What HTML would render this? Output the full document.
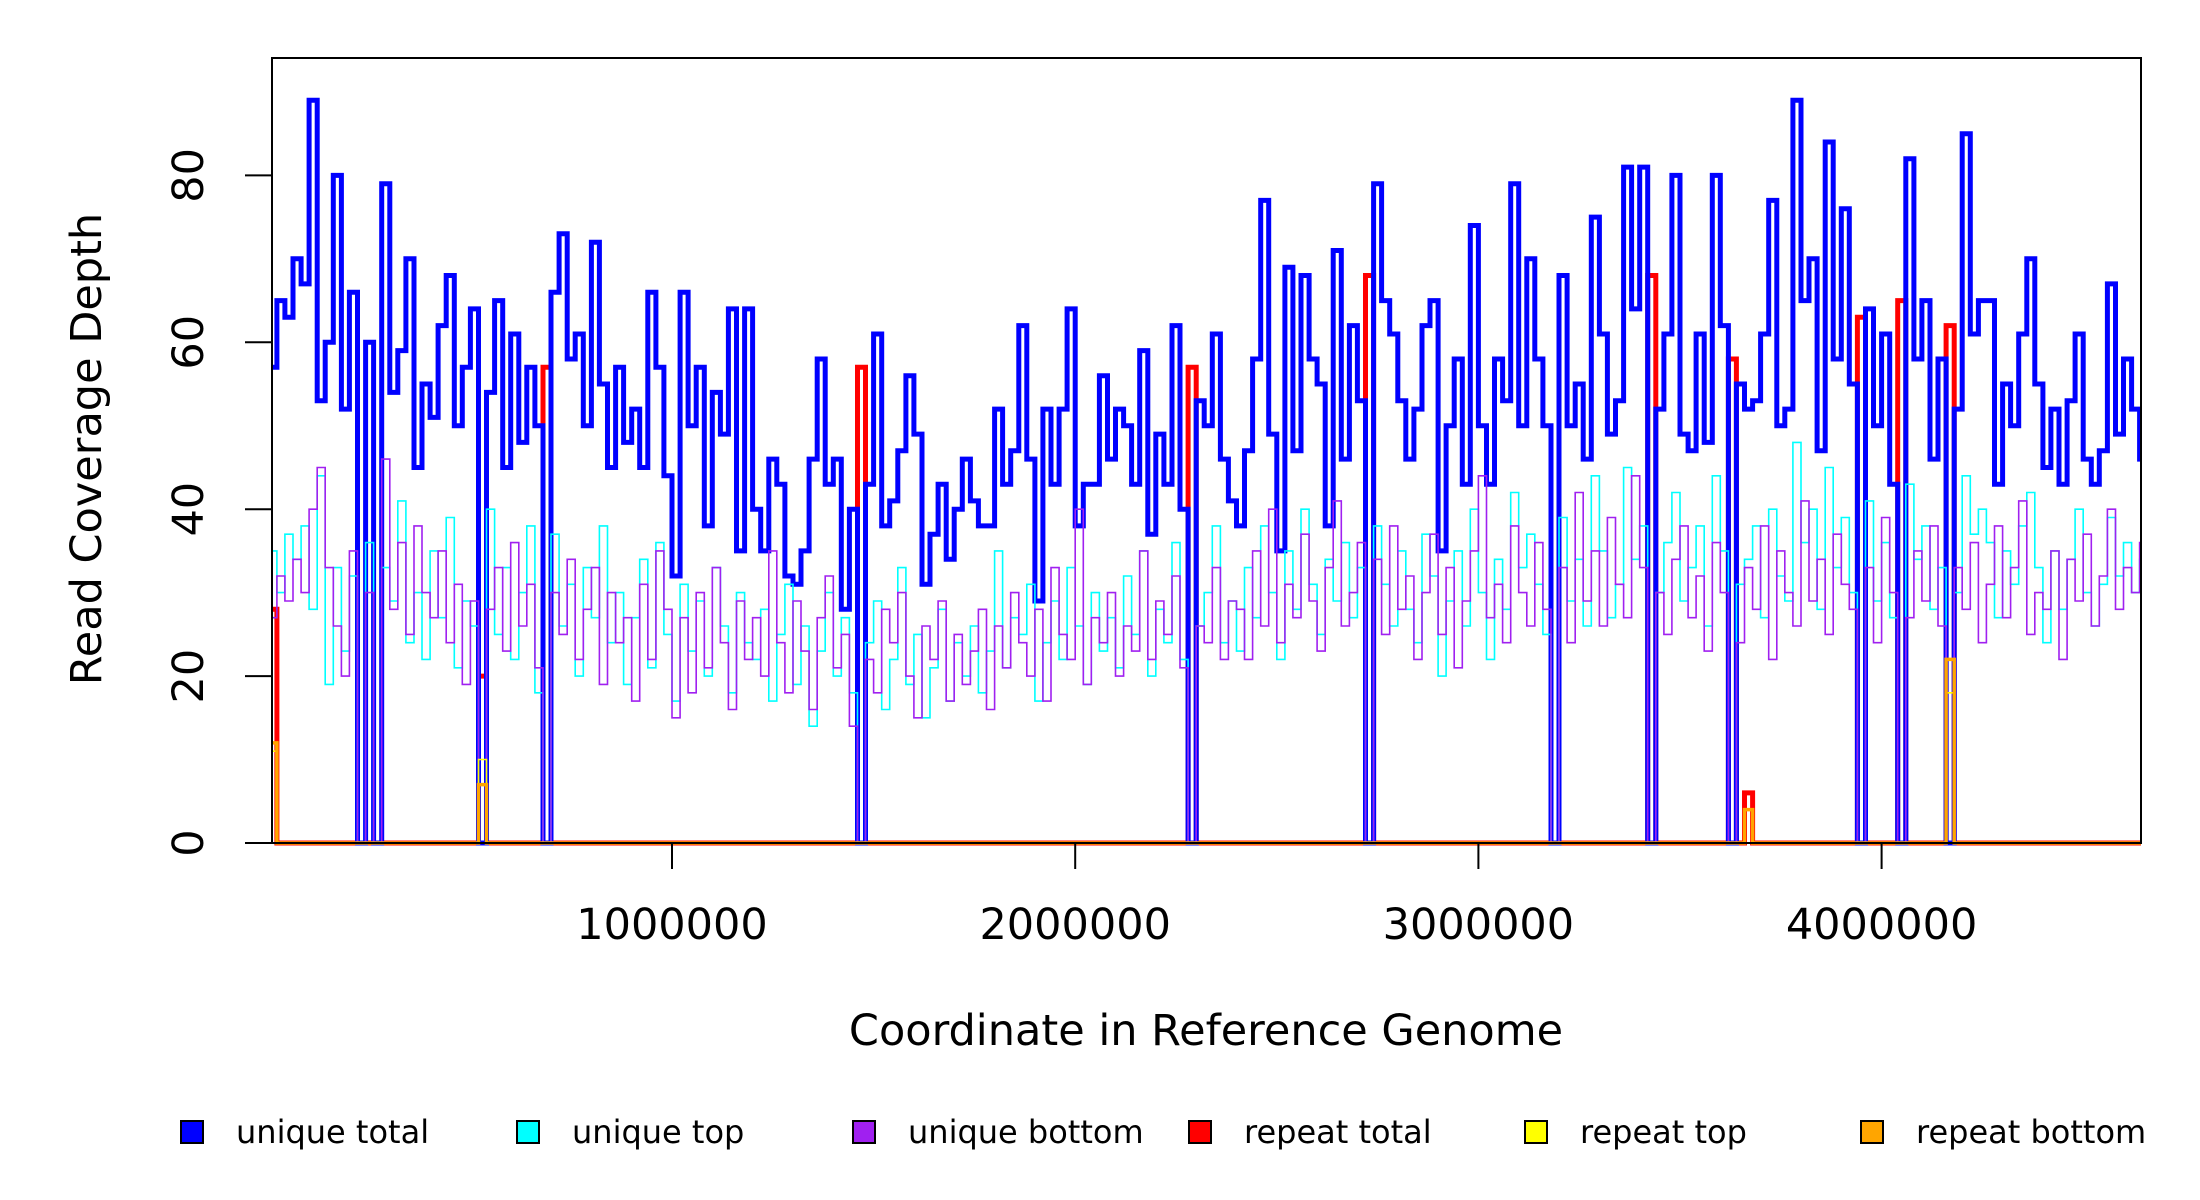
<!DOCTYPE html>
<html><head><meta charset="utf-8"><style>
html,body{margin:0;padding:0;background:#fff;}
svg{display:block;font-family:"DejaVu Sans","Liberation Sans",sans-serif;}
</style></head><body>
<svg id="chart" width="2200" height="1200" viewBox="0 0 2200 1200" xmlns="http://www.w3.org/2000/svg">
<defs><clipPath id="plotclip"><rect x="272" y="58" width="1869" height="790"/></clipPath></defs>
<rect x="0" y="0" width="2200" height="1200" fill="#fff"/>
<g id="series" clip-path="url(#plotclip)"></g>
<rect x="272" y="58" width="1869" height="785" fill="none" stroke="#000" stroke-width="2"/>
<g id="axes"></g>
<text x="87" y="449" font-size="43" text-anchor="middle" dominant-baseline="central" transform="rotate(-90 87 449)">Read Coverage Depth</text>
<text x="1206" y="1045" font-size="43" text-anchor="middle">Coordinate in Reference Genome</text>
<g id="legend"></g>
</svg>
<script>
const binSize = 20000;
const genomeLength = 4643000;
const uniqueTotal = [57,65,63,70,67,89,53,60,80,52,66,0,60,0,79,54,59,70,45,55,51,62,68,50,57,64,0,54,65,45,61,48,57,50,0,66,73,58,61,50,72,55,45,57,48,52,45,66,57,44,32,66,50,57,38,54,49,64,35,64,
40,35,46,43,32,31,35,46,58,43,46,28,40,0,43,61,38,41,47,56,49,31,37,43,34,40,46,41,38,38,52,43,47,62,46,29,52,43,52,64,38,43,43,56,46,52,50,43,59,37,49,43,62,40,0,53,50,61,46,41,
38,47,58,77,49,35,69,47,68,58,55,38,71,46,62,53,0,79,65,61,53,46,52,62,65,35,50,58,43,74,50,43,58,53,79,50,70,58,50,0,68,50,55,46,75,61,49,53,81,64,81,0,52,61,80,49,47,61,48,80,
62,0,55,52,53,61,77,50,52,89,65,70,47,84,58,76,55,0,64,50,61,43,0,82,58,65,46,58,0,52,85,61,65,65,43,55,50,61,70,55,45,52,43,53,61,46,43,47,67,49,58,52,46];
const uniqueTop = [35,30,37,34,38,28,44,19,33,23,32,0,36,0,33,29,41,24,30,22,35,27,39,21,29,26,0,40,25,33,22,30,38,18,0,37,26,31,20,33,27,38,24,30,19,27,34,21,36,25,17,31,23,29,20,33,26,18,30,24,
22,28,17,25,31,19,26,14,23,30,20,27,18,0,24,29,16,22,33,19,25,15,21,28,17,24,20,26,18,23,35,21,27,25,31,17,24,29,22,33,26,19,30,23,27,21,32,25,35,20,28,24,36,22,0,26,30,38,24,29,
23,33,27,38,30,22,35,28,40,31,25,34,29,36,27,33,0,38,31,26,35,28,24,37,32,20,29,35,26,40,30,22,34,28,42,33,37,31,25,0,39,29,34,26,44,35,27,31,45,34,38,0,30,36,42,29,33,38,26,44,
35,0,31,34,38,27,40,32,29,48,36,40,28,45,33,39,30,0,41,29,36,27,0,43,34,38,28,33,0,30,44,37,40,36,27,35,31,38,42,33,24,35,28,34,40,30,26,31,39,32,36,30,34];
const uniqueBottom = [27,32,29,34,30,40,45,33,26,20,35,0,30,0,46,28,36,25,38,30,27,35,24,31,19,29,0,28,33,23,36,26,31,21,0,30,25,34,22,28,33,19,30,24,27,17,31,22,35,28,15,27,18,30,21,33,24,16,29,22,
27,20,35,24,18,29,23,16,27,32,21,25,14,0,22,18,28,24,30,20,15,26,22,29,17,25,19,23,28,16,26,21,30,24,20,28,17,33,25,22,40,19,27,24,30,20,26,23,35,22,29,25,32,21,0,26,24,33,22,29,
28,22,35,26,40,24,31,27,37,29,23,33,41,26,30,36,0,34,25,38,28,32,22,30,37,25,33,21,29,35,44,27,31,24,38,30,26,36,28,0,33,24,42,29,35,26,39,31,27,44,33,0,30,25,34,38,27,32,23,36,
30,0,24,33,28,38,22,35,30,26,41,29,34,25,37,31,28,0,33,24,39,30,0,27,35,29,38,26,0,33,28,36,24,31,38,27,33,41,25,30,28,35,22,34,29,37,26,32,40,28,33,30,36];
const repeatBins = [0,26,34,73,114,136,171,181,183,197,202,208];
const repeatTotal = [28,20,57,57,57,68,68,58,6,63,65,62];
const repeatTop = [11,10,0,0,0,0,0,0,4,0,0,18];
const repeatBottom = [12,7,0,0,0,0,0,0,4,0,0,22];
const yTicks = [0,20,40,60,80];
const xTicks = [1000000,2000000,3000000,4000000];
const xTickLabels = ["1000000","2000000","3000000","4000000"];
const legendLabels = ["unique total","unique top","unique bottom","repeat total","repeat top","repeat bottom"];
const legendColors = ["#0000ff","#00ffff","#a020f0","#ff0000","#ffff00","#ffa500"];

const NS = "http://www.w3.org/2000/svg";
function xs(g){ return 268.8 + g * 403.2e-6; }
function ys(v){ return 843 - v * 8.345; }
const nBins = Math.ceil(genomeLength / binSize);
function stepPath(vals){
  let d = "";
  for (let i = 0; i < vals.length; i++){
    const x0 = xs(i * binSize), x1 = xs((i + 1) * binSize), y = ys(vals[i]);
    d += (i === 0 ? "M" + x0.toFixed(1) + "," + y.toFixed(1) : "V" + y.toFixed(1)) + "H" + x1.toFixed(1);
  }
  return d;
}
function sparse(bins, vals){
  const a = new Array(nBins).fill(0);
  bins.forEach((b, k) => { a[b] = vals[k]; });
  return a;
}
const seriesLayer = document.getElementById("series");
function addSeries(vals, color, w, name){
  const p = document.createElementNS(NS, "path");
  p.setAttribute("d", stepPath(vals));
  p.setAttribute("fill", "none");
  p.setAttribute("stroke", color);
  p.setAttribute("stroke-width", w);
  p.setAttribute("stroke-linejoin", "miter");
  
  
  seriesLayer.appendChild(p);
}
addSeries(sparse(repeatBins, repeatTotal), "#ff0000", 5, "repeat-total-line");
addSeries(uniqueTotal, "#0000ff", 5, "unique-total-line");
addSeries(uniqueTop, "#00ffff", 1.6, "unique-top-line");
addSeries(uniqueBottom, "#a020f0", 1.6, "unique-bottom-line");
addSeries(sparse(repeatBins, repeatTop), "#ffff00", 1.6, "repeat-top-line");
addSeries(sparse(repeatBins, repeatBottom), "#ffa500", 3.5, "repeat-bottom-line");

const axes = document.getElementById("axes");
yTicks.forEach(v => {
  const y = ys(v);
  const l = document.createElementNS(NS, "line");
  l.setAttribute("x1", 245); l.setAttribute("x2", 272);
  l.setAttribute("y1", y); l.setAttribute("y2", y);
  l.setAttribute("stroke", "#000"); l.setAttribute("stroke-width", 2);
  
  
  axes.appendChild(l);
  const t = document.createElementNS(NS, "text");
  t.setAttribute("x", 189); t.setAttribute("y", y);
  t.setAttribute("font-size", 43);
  t.setAttribute("text-anchor", "middle");
  t.setAttribute("dominant-baseline", "central");
  t.setAttribute("transform", "rotate(-90 189 " + y + ")");
  t.textContent = String(v);
  
  
  axes.appendChild(t);
});
xTicks.forEach((g, k) => {
  const x = xs(g);
  const l = document.createElementNS(NS, "line");
  l.setAttribute("x1", x); l.setAttribute("x2", x);
  l.setAttribute("y1", 843); l.setAttribute("y2", 869);
  l.setAttribute("stroke", "#000"); l.setAttribute("stroke-width", 2);
  
  
  axes.appendChild(l);
  const t = document.createElementNS(NS, "text");
  t.setAttribute("x", x); t.setAttribute("y", 939);
  t.setAttribute("font-size", 43);
  t.setAttribute("text-anchor", "middle");
  t.textContent = xTickLabels[k];
  
  
  axes.appendChild(t);
});
const legend = document.getElementById("legend");
legendLabels.forEach((lab, k) => {
  const cx = 192 + k * 336;
  const r = document.createElementNS(NS, "rect");
  r.setAttribute("x", cx - 11); r.setAttribute("y", 1121);
  r.setAttribute("width", 22); r.setAttribute("height", 22);
  r.setAttribute("fill", legendColors[k]);
  r.setAttribute("stroke", "#000"); r.setAttribute("stroke-width", 2);
  
  
  legend.appendChild(r);
  const t = document.createElementNS(NS, "text");
  t.setAttribute("x", cx + 44); t.setAttribute("y", 1132);
  t.setAttribute("font-size", 32);
  t.setAttribute("dominant-baseline", "central");
  t.textContent = lab;
  
  
  legend.appendChild(t);
});
</script>
</body></html>
